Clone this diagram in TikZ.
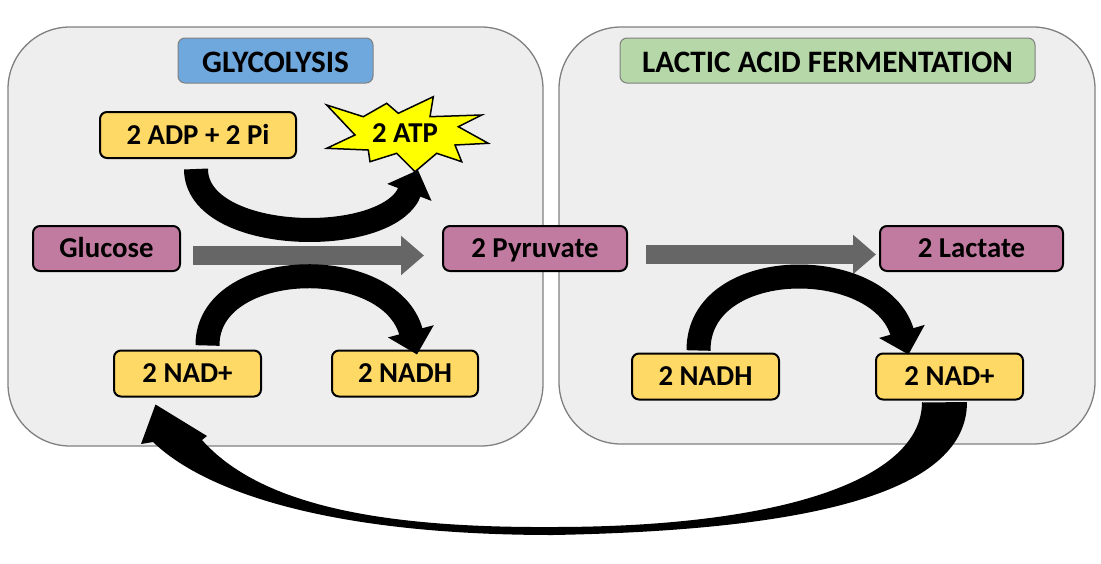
\documentclass[tikz,border=0pt]{standalone}
\usepackage{fontspec}
\setmainfont{Carlito}
\usetikzlibrary{arrows.meta,calc}
\definecolor{panelfill}{HTML}{EEEEEE}
\definecolor{panelline}{HTML}{808080}
\definecolor{titleblue}{HTML}{6FA8DC}
\definecolor{titlegreen}{HTML}{B6D7A8}
\definecolor{boxyellow}{HTML}{FFD966}
\definecolor{boxpink}{HTML}{C27BA0}
\definecolor{stary}{HTML}{FFFF00}
\definecolor{arrowgray}{HTML}{666666}
\begin{document}
\begin{tikzpicture}[x=1pt,y=-1pt,
  txt/.style={font=\fontsize{28.8}{32}\selectfont\bfseries, text=black, text height=18.5pt, text depth=0pt},
  ttxt/.style={font=\fontsize{31.2}{34}\selectfont\bfseries, text=black, text height=20pt, text depth=0pt},
  panel/.style={draw=panelline, fill=panelfill, line width=1.3pt, rounded corners=62pt, inner sep=0pt},
  titlebox/.style={draw=panelline, line width=1pt, rounded corners=7pt, minimum height=45pt, inner sep=0pt},
  ybox/.style={txt, draw=black, line width=2pt, fill=boxyellow, rounded corners=7pt, minimum height=46pt, inner sep=0pt},
  pbox/.style={txt, draw=black, line width=2pt, fill=boxpink, rounded corners=7pt, minimum height=45pt, inner sep=0pt},
  blkarrow/.style={draw=black, line width=24pt, -{Triangle[width=46pt,length=24pt]}},
  grayarrow/.style={draw=arrowgray, line width=19pt, -{Triangle[width=38pt,length=23pt]}}
]
\useasboundingbox (0,0) rectangle (1101,563);
\fill[white] (0,0) rectangle (1101,563);

% panels
\node[panel, minimum width=535pt, minimum height=419pt] (glypanel) at (275.5,236.5) {};
\node[panel, minimum width=536pt, minimum height=417pt] (lacpanel) at (827,235.5) {};

% titles
\node[titlebox, fill=titleblue, minimum width=195pt] (glytitle) at (275.5,60.5) {};
\node[ttxt] (glytext) at (275.5,62.5) {GLYCOLYSIS};
\node[titlebox, fill=titlegreen, minimum width=415pt] (lactitle) at (827.5,60.5) {};
\node[ttxt] (lactext) at (827.5,62.5) {LACTIC ACID FERMENTATION};

% boxes
\node[ybox, minimum width=196pt] (adp) at (198,135) {2 ADP + 2 Pi};
\node[pbox, minimum width=147pt] (glucose) at (106.5,248.5) {Glucose};
\node[pbox, minimum width=184pt] (pyruvate) at (535,248.5) {2 Pyruvate};
\node[pbox, minimum width=183pt] (lactate) at (971.5,248.5) {2 Lactate};
\node[ybox, minimum width=147pt] (nadl) at (187.5,373.5) {2 NAD+};
\node[ybox, minimum width=146pt] (nadhl) at (405,373.5) {2 NADH};
\node[ybox, minimum width=147pt] (nadhr) at (705.5,376.5) {2 NADH};
\node[ybox, minimum width=147pt] (nadr) at (949.5,376.5) {2 NAD+};

% ATP star
\filldraw[fill=stary, draw=black, line width=1.5pt, line join=miter]
  (326.7,105) -- (363.3,116.7) -- (386.7,103.3) -- (398.3,113.3) -- (433.3,96.7) -- (430,116.7)
  -- (481.7,115) -- (458.3,126.7) -- (488.3,143.3) -- (455,145) -- (461.7,161.7) -- (436.7,153.3)
  -- (415,171.7) -- (396.7,153.3) -- (370,161.7) -- (368.3,150) -- (326.7,148.3) -- (355,135) -- cycle;
\node[txt] (atp) at (405,133) {2 ATP};

% gray arrows
\draw[grayarrow] ([xshift=12pt,yshift=-7pt]glucose.east) -- ([xshift=-18pt,yshift=-7pt]pyruvate.west);
\draw[grayarrow] ([xshift=18pt,yshift=-6pt]pyruvate.east) -- ([xshift=-3pt,yshift=-6pt]lactate.west);

% black curved arrows
\coordinate (a1s) at ([xshift=-2pt,yshift=-10pt]adp.south);
\coordinate (a1e) at (418,170);
\draw[blkarrow] (a1s) .. controls (196,244) and (388,248) .. (a1e);

\coordinate (a2s) at ([xshift=20pt,yshift=4pt]nadl.north);
\coordinate (a2e) at ([xshift=12pt,yshift=-5pt]nadhl.north);
\draw[blkarrow] (a2s) .. controls (207,258) and (390,253) .. (a2e);

\coordinate (a3s) at ([xshift=-7pt,yshift=2pt]nadhr.north);
\coordinate (a3e) at ([xshift=-41pt,yshift=-2pt]nadr.north);
\draw[blkarrow] (a3s) .. controls (698,255) and (880,255) .. (a3e);

% big return arrow (tapered)
\coordinate (b1) at ([xshift=-26pt,yshift=-2pt]nadr.south);
\coordinate (b2) at ([xshift=-32pt,yshift=-7pt]nadl.south);
\fill[black] (b1) -- (967,402) .. controls (967,490) and (820,530) .. (553,535)
  .. controls (330,535) and (205,492) .. (153,442) -- (141,444) -- (b2) -- (207,436) -- (202,440)
  .. controls (260,505) and (380,528) .. (553,527)
  .. controls (780,527) and (922,480) .. (922,402) -- cycle;
\end{tikzpicture}
\end{document}
